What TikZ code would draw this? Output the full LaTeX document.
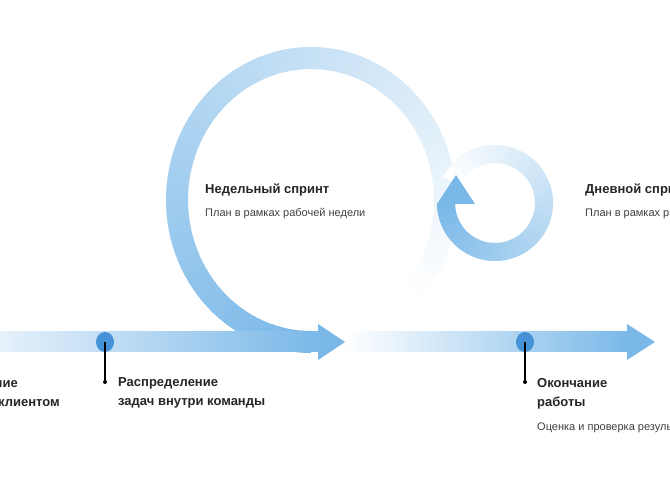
\documentclass[tikz,border=0pt]{standalone}
\usepackage{fontspec}
\setmainfont{Liberation Sans}
\usetikzlibrary{shapes.geometric}
\begin{document}
\begin{tikzpicture}[x=1pt,y=-1pt,
  ttl/.style={font=\bfseries\fontsize{13}{16}\selectfont, text=black!85, inner sep=0pt},
  sub/.style={font=\fontsize{11}{13}\selectfont, text=black!75, inner sep=0pt},
  pin/.style={line width=1.4pt, black},
  mark dot/.style={fill=black, circle, inner sep=0pt, minimum size=4pt},
  milestone/.style={ellipse, fill=blue3, inner sep=0pt, minimum width=18pt, minimum height=20pt}]
\definecolor{blue1}{HTML}{7AB8E8}
\definecolor{blue0}{HTML}{E6F1FB}
\definecolor{blue3}{HTML}{4592D6}
\useasboundingbox[fill=white] (0,0) rectangle (670,486);
% big loop
\foreach \t in {90,93,...,440}{
  \pgfmathsetmacro{\m}{min(100,max(0,(\t-90)/3.1))}
  \draw[line width=22pt, color=white!\m!blue1] plot[domain=\t:\t+3.6, samples=4] ({311+134*cos(\x)},{200+142*sin(\x)});
}
% timeline 1
\shade[left color=blue0, right color=blue1] (0,332) rectangle (319,352);
\fill[blue1] (318,324) -- (345,342) -- (318,360) -- cycle;
% timeline 2
\shade[left color=white, right color=blue1] (345,332) rectangle (628,352);
\fill[blue1] (627,324) -- (655,342) -- (627,360) -- cycle;
% small loop
\foreach \t in {180,177,...,-150}{
  \pgfmathsetmacro{\m}{min(100,max(0,(180-\t)/3.3))}
  \draw[line width=18pt, color=white!\m!blue1] plot[domain=\t:\t-3.6, samples=4] ({495+49*cos(\x)},{203+49*sin(\x)});
}
\fill[blue1] (456,175) -- (437,204) -- (475,204) -- cycle;
% milestones
\node[milestone] (m1) at (105,342) {};
\node[milestone] (m2) at (525,342) {};
\node[mark dot] (d1) at (105,382) {};
\node[mark dot] (d2) at (525,382) {};
\draw[pin] (m1.center) -- (d1.center);
\draw[pin] (m2.center) -- (d2.center);
% texts
\node[ttl, anchor=west] (t1) at (205,190) {Недельный спринт};
\node[sub, anchor=west] (s1) at (205,214) {План в рамках рабочей недели};
\node[ttl, anchor=west] (t2) at (585,190) {Дневной спринт};
\node[sub, anchor=west] (s2) at (585,214) {План в рамках рабочего дня};
\node[ttl, anchor=east] (a1) at (18,383) {Согласование};
\node[ttl, anchor=east] (a2) at (60,403) {с клиентом};
\node[ttl, anchor=west] (b1) at (118,383) {Распределение};
\node[ttl, anchor=west] (b2) at (118,403) {задач внутри команды};
\node[ttl, anchor=west] (c1) at (537,383) {Окончание};
\node[ttl, anchor=west] (c2) at (537,403) {работы};
\node[sub, anchor=west] (c3) at (537,428) {Оценка и проверка результатов};
\end{tikzpicture}
\end{document}
